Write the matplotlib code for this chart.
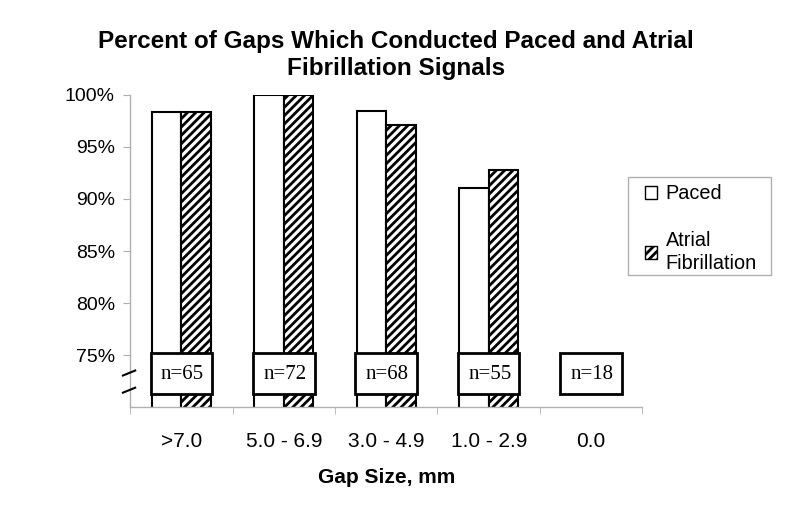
import numpy as np
import matplotlib.pyplot as plt
from matplotlib.patches import Rectangle, Patch

plt.rcParams['font.family'] = ['Liberation Sans', 'DejaVu Sans']
plt.rcParams['hatch.linewidth'] = 2.0

# 数据
categories = ['>7.0', '5.0 - 6.9', '3.0 - 4.9', '1.0 - 2.9', '0.0']
paced = [98.4, 100.0, 98.5, 91.1, np.nan]
atrial_fib = [98.4, 100.0, 97.1, 92.8, np.nan]
n_labels = ['n=65', 'n=72', 'n=68', 'n=55', 'n=18']
yticks = [75, 80, 85, 90, 95, 100]

grey = '#b0b0b0'
x = np.arange(len(categories))
w = 0.29

fig = plt.figure(figsize=(7.98, 5.12), dpi=100)
ax = fig.add_axes([0.163, 0.205, 0.642, 0.6095])

ax.bar(x - w / 2, paced, w, color='white', edgecolor='black', linewidth=1.5)
ax.bar(x + w / 2, atrial_fib, w, color='white', edgecolor='black', linewidth=1.5, hatch='////')

# n= 标签框
for xi, lab in zip(x, n_labels):
    ax.add_patch(Rectangle((xi - 0.3, 71.25), 0.6, 3.95, facecolor='white',
                           edgecolor='black', linewidth=2, zorder=5, clip_on=False))
    ax.text(xi + 0.01, 73.15, lab, ha='center', va='center', fontsize=15,
            family=['Liberation Serif', 'DejaVu Serif'], zorder=6)

ax.set_xlim(-0.5, len(categories) - 0.5)
ax.set_ylim(70, 100)
ax.set_yticks(yticks)
ax.set_yticklabels([f'{v}%' for v in yticks], fontsize=14)
ax.set_xticks(x)
ax.set_xticklabels(categories, fontsize=15)
ax.set_xticks(np.arange(-0.5, len(categories)), minor=True)
ax.tick_params(axis='x', which='major', length=0, pad=18)
ax.tick_params(axis='x', which='minor', length=5, color=grey)
ax.tick_params(axis='y', length=5, color=grey, pad=6)

for s in ['top', 'right']:
    ax.spines[s].set_visible(False)
for s in ['left', 'bottom']:
    ax.spines[s].set_color(grey)
    ax.spines[s].set_linewidth(1)

# 断轴标记
for yb in [0.113, 0.058]:
    ax.plot([-0.014, 0.01], [yb - 0.012, yb + 0.004], transform=ax.transAxes,
            color='black', lw=1.5, clip_on=False, zorder=7)

ax.set_xlabel('Gap Size, mm', fontsize=15, fontweight='bold', labelpad=12)
fig.text(0.496, 0.893, 'Percent of Gaps Which Conducted Paced and Atrial\nFibrillation Signals',
         ha='center', va='center', fontsize=17.5, fontweight='bold', linespacing=1.25)

handles = [Patch(facecolor='white', edgecolor='black', linewidth=1),
           Patch(facecolor='white', edgecolor='black', linewidth=1, hatch='////')]
leg = fig.legend(handles, ['Paced', 'Atrial\nFibrillation'], loc='upper left',
                 bbox_to_anchor=(0.7845, 0.677), fontsize=14.3, frameon=False,
                 handlelength=0.6, handleheight=0.6,
                 handletextpad=0.45, labelspacing=1.4, borderpad=0.45)
leg.get_texts()[1].set_linespacing(1.25)
# 图例外框
fig.add_artist(Rectangle((0.787, 0.463), 0.179, 0.191, transform=fig.transFigure,
                         fill=False, edgecolor=grey, linewidth=1))

fig.savefig('out.png', dpi=100)
